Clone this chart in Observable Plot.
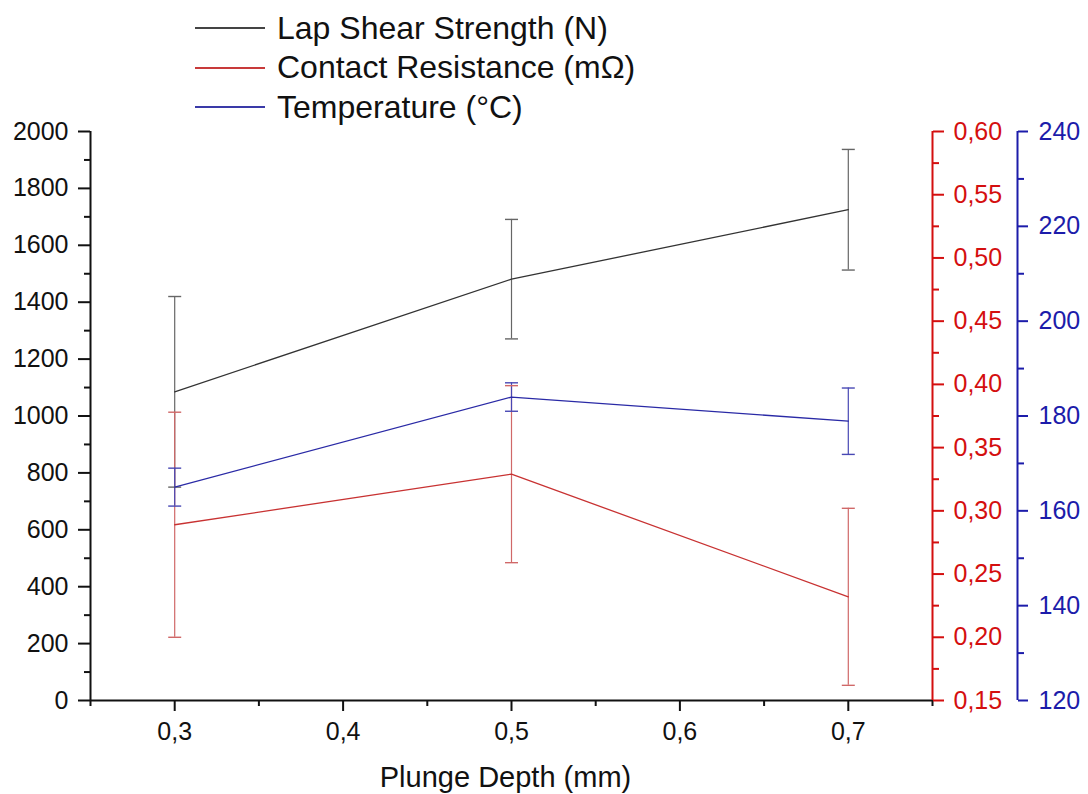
<!DOCTYPE html>
<html><head><meta charset="utf-8">
<script src="https://cdn.jsdelivr.net/npm/d3@7"></script>
<script src="https://cdn.jsdelivr.net/npm/@observablehq/plot@0.6"></script>
<style>
body{margin:0;background:#fff;font-family:"Liberation Sans",Arial,sans-serif;}
#wrap{width:1088px;height:794px;position:relative;overflow:hidden;}
#legend{position:relative;height:120px;}
.row{position:absolute;left:195px;height:40px;display:flex;align-items:center;font-size:32px;color:#111;white-space:nowrap;}
.row .sw{display:inline-block;width:70px;height:2px;margin-right:12px;}
</style></head><body>
<div id="wrap"><div id="legend"></div><div id="chart"></div></div>
<script>
// ---- data ----
const depth = [0.3, 0.5, 0.7];
const shear = [1085, 1481, 1725];
const shearErr = [335, 210, 212];
const resistance = [0.289, 0.329, 0.232];
const resistanceErr = [0.089, 0.070, 0.070];
const temperature = [165, 184, 178.9];
const temperatureErr = [4, 3, 7];
const seriesNames = ["Lap Shear Strength (N)", "Contact Resistance (mΩ)", "Temperature (°C)"];

// ---- ticks ----
const xTicks = [0.3, 0.4, 0.5, 0.6, 0.7];
const xTickLabels = ["0,3", "0,4", "0,5", "0,6", "0,7"];
const xMinor = [0.25, 0.35, 0.45, 0.55, 0.65, 0.75];
const leftTicks = [0, 200, 400, 600, 800, 1000, 1200, 1400, 1600, 1800, 2000];
const leftTickLabels = ["0", "200", "400", "600", "800", "1000", "1200", "1400", "1600", "1800", "2000"];
const leftMinor = [100, 300, 500, 700, 900, 1100, 1300, 1500, 1700, 1900];
const redTicks = [0.15, 0.20, 0.25, 0.30, 0.35, 0.40, 0.45, 0.50, 0.55, 0.60];
const redTickLabels = ["0,15", "0,20", "0,25", "0,30", "0,35", "0,40", "0,45", "0,50", "0,55", "0,60"];
const redMinor = [0.175, 0.225, 0.275, 0.325, 0.375, 0.425, 0.475, 0.525, 0.575];
const blueTicks = [120, 140, 160, 180, 200, 220, 240];
const blueTickLabels = ["120", "140", "160", "180", "200", "220", "240"];
const blueMinor = [130, 150, 170, 190, 210, 230];

// ---- styling ----
const colBlack = "#333333", colRed = "#c83232", colBlue = "#2a2aa6";
const errBlack = "#666666", errRed = "#d06868", errBlue = "#4848b4";
const axRed = "#d40f0f", axBlue = "#1c1caa";

// map secondary axes onto the primary y scale domain [0, 2000]
const leftDomain = [0, 2000], redDomain = [0.15, 0.60], blueDomain = [120, 240];
const toLeft = (dom) => (v) => (v - dom[0]) / (dom[1] - dom[0]) * (leftDomain[1] - leftDomain[0]) + leftDomain[0];
const red2left = toLeft(redDomain), blue2left = toLeft(blueDomain);
const ident = (v) => v;

const series = [
  {name: seriesNames[0], vals: shear, errs: shearErr, f: ident, line: colBlack, err: errBlack},
  {name: seriesNames[1], vals: resistance, errs: resistanceErr, f: red2left, line: colRed, err: errRed},
  {name: seriesNames[2], vals: temperature, errs: temperatureErr, f: blue2left, line: colBlue, err: errBlue}
];
const rows = series.flatMap(s => depth.map((x, i) => ({
  series: s.name, x, y: s.f(s.vals[i]), lo: s.f(s.vals[i] - s.errs[i]), hi: s.f(s.vals[i] + s.errs[i]), line: s.line, err: s.err
})));
const caps = rows.flatMap(r => [{x: r.x, y: r.lo, err: r.err}, {x: r.x, y: r.hi, err: r.err}]);

const capSymbol = {draw(ctx, size) { const r = Math.sqrt(size / Math.PI); ctx.moveTo(-r, 0); ctx.lineTo(r, 0); }};

const xLabelMap = new Map(xTicks.map((t, i) => [t, xTickLabels[i]]));
const leftLabelMap = new Map(leftTicks.map((t, i) => [t, leftTickLabels[i]]));
const redMapped = redTicks.map(red2left);
const redLabelMap = new Map(redMapped.map((t, i) => [t, redTickLabels[i]]));
const blueMapped = blueTicks.map(blue2left);
const blueLabelMap = new Map(blueMapped.map((t, i) => [t, blueTickLabels[i]]));

// ---- legend ----
const legend = document.getElementById("legend");
const legendColors = ["#444444", "#c83a3a", "#3a3aa8"];
seriesNames.forEach((n, i) => {
  const row = document.createElement("div");
  row.className = "row";
  row.style.top = (8 + i * 39.5) + "px";
  const sw = document.createElement("span");
  sw.className = "sw";
  sw.style.background = legendColors[i];
  const tx = document.createElement("span");
  tx.textContent = n;
  row.appendChild(sw);
  row.appendChild(tx);
  legend.appendChild(row);
});

// ---- chart ----
const blueOffset = 85;
const fs = 25;
const chart = Plot.plot({
  width: 1088,
  height: 674,
  marginTop: 11,
  marginBottom: 94,
  marginLeft: 90,
  marginRight: 156,
  style: {overflow: "visible", fontFamily: "'Liberation Sans', Arial, sans-serif", background: "transparent", color: "#111"},
  x: {domain: [0.25, 0.75]},
  y: {domain: leftDomain},
  marks: [
    // error bars
    Plot.ruleX(rows, {x: "x", y1: "lo", y2: "hi", stroke: "err", strokeWidth: 1.2}),
    Plot.dot(caps, {x: "x", y: "y", symbol: capSymbol, r: 6.5, stroke: "err", fill: "none", strokeWidth: 1.4}),
    // lines
    Plot.line(rows, {x: "x", y: "y", z: "series", stroke: "line", strokeWidth: 1.3}),
    // axis lines
    Plot.ruleY([0], {stroke: "#111", strokeWidth: 2}),
    Plot.ruleX([0.25], {stroke: "#111", strokeWidth: 2}),
    Plot.ruleX([0.75], {stroke: axRed, strokeWidth: 2}),
    Plot.ruleX([0.75], {stroke: axBlue, strokeWidth: 2, dx: blueOffset}),
    // x axis
    Plot.axisX(xTicks, {tickSize: 11, tickPadding: 11, fontSize: fs, tickFormat: d => xLabelMap.get(d), label: null, strokeWidth: 2}),
    Plot.axisX(xMinor, {tickSize: 6, fill: "none", label: null, strokeWidth: 2}),
    // left axis
    Plot.axisY(leftTicks, {anchor: "left", tickSize: 12, tickPadding: 10, fontSize: fs, tickFormat: d => leftLabelMap.get(d), label: null, strokeWidth: 2}),
    Plot.axisY(leftMinor, {anchor: "left", tickSize: 6, fill: "none", label: null, strokeWidth: 2}),
    // red axis
    Plot.axisY(redMapped, {anchor: "right", tickSize: 11, tickPadding: 10, fontSize: fs, stroke: axRed, fill: axRed, tickFormat: d => redLabelMap.get(d), label: null, strokeWidth: 2}),
    Plot.axisY(redMinor.map(red2left), {anchor: "right", tickSize: 6, fill: "none", stroke: axRed, label: null, strokeWidth: 2}),
    // blue axis
    Plot.axisY(blueMapped, {anchor: "right", tickSize: 10, tickPadding: 11, fontSize: fs, stroke: axBlue, fill: axBlue, dx: blueOffset, tickFormat: d => blueLabelMap.get(d), label: null, strokeWidth: 2}),
    Plot.axisY(blueMinor.map(blue2left), {anchor: "right", tickSize: 6, fill: "none", stroke: axBlue, dx: blueOffset, label: null, strokeWidth: 2}),
    // x title
    Plot.text(["Plunge Depth (mm)"], {text: d => d, frameAnchor: "bottom", dy: 86, dx: -6, lineAnchor: "bottom", fontSize: 29, fill: "#111"})
  ]
});
document.getElementById("chart").appendChild(chart);
</script>
</body></html>
